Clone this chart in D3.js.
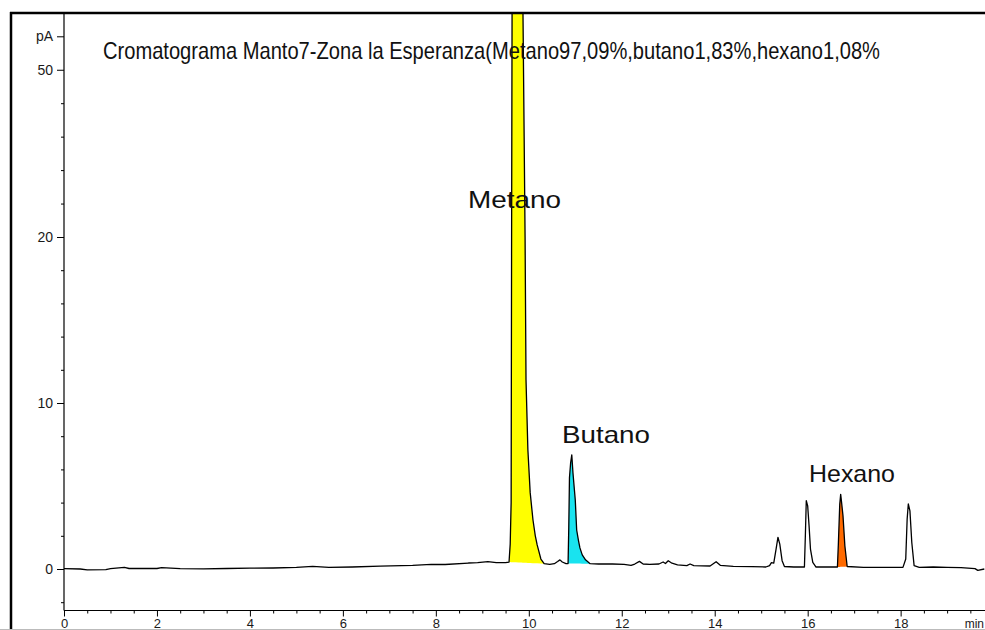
<!DOCTYPE html>
<html>
<head>
<meta charset="utf-8">
<script src="https://cdn.jsdelivr.net/npm/d3@7"></script>
<style>
  html, body { margin: 0; padding: 0; background: #fff; }
  svg { display: block; }
  text { font-family: Arial, "Liberation Sans", sans-serif; }
</style>
</head>
<body>
<script>
// Retention time (min) and detector signal (pA) of the FID trace
const traceTime = [
  0.00, 0.35, 0.50, 0.90, 1.00, 1.30, 1.40, 2.00, 2.10, 2.50, 3.00, 3.50, 4.00, 4.50,
  5.00, 5.35, 5.70, 6.20, 6.80, 7.50, 7.90, 8.20, 8.70, 8.90, 9.12, 9.30, 9.50,
  9.575, 9.60, 9.62, 9.63, 9.64, 9.66, 9.72, 9.78, 9.84, 9.875, 9.90, 9.92, 9.94,
  9.98, 10.03, 10.09, 10.14, 10.18, 10.26, 10.33, 10.45, 10.55, 10.62, 10.67, 10.72, 10.80,
  10.845, 10.86, 10.875, 10.90, 10.925, 10.95, 10.98, 11.00, 11.03, 11.07, 11.10, 11.15, 11.22, 11.32,
  11.50, 11.80, 12.05, 12.20, 12.28, 12.38, 12.46, 12.60, 12.80, 12.89, 12.94, 13.00, 13.08,
  13.20, 13.40, 13.47, 13.55, 13.90, 14.03, 14.12, 14.40, 14.80, 15.10, 15.18, 15.22, 15.27,
  15.32, 15.36, 15.40, 15.45, 15.50, 15.70, 15.93, 15.95, 15.97, 16.00, 16.03, 16.06, 16.11, 16.18,
  16.40, 16.64, 16.66, 16.69, 16.71, 16.73, 16.76, 16.80, 16.85, 17.20, 17.60, 18.05,
  18.11, 18.14, 18.165, 18.20, 18.24, 18.29, 18.40, 18.70, 19.00, 19.30, 19.60, 19.66, 19.80
];
const traceSignal = [
  0.02, 0.00, -0.05, -0.04, 0.02, 0.10, 0.03, 0.03, 0.08, 0.02, 0.01, 0.03, 0.05, 0.06,
  0.10, 0.16, 0.10, 0.12, 0.17, 0.22, 0.28, 0.27, 0.36, 0.38, 0.45, 0.38, 0.38,
  0.42, 1.5, 4.0, 20, 60, 140, 260, 240, 140, 60, 38, 20, 11.4,
  7.2, 4.6, 2.95, 2.0, 1.45, 0.6, 0.32, 0.28, 0.32, 0.45, 0.55, 0.42, 0.32,
  0.33, 2.5, 5.5, 6.4, 6.87, 5.8, 4.8, 4.16, 2.35, 1.7, 1.27, 0.85, 0.55, 0.32,
  0.30, 0.30, 0.28, 0.22, 0.30, 0.46, 0.30, 0.28, 0.30, 0.42, 0.33, 0.50, 0.35,
  0.25, 0.20, 0.30, 0.20, 0.18, 0.44, 0.22, 0.16, 0.14, 0.12, 0.20, 0.38, 0.35,
  1.2, 1.91, 1.5, 0.5, 0.15, 0.12, 0.12, 2.0, 4.11, 3.8, 2.6, 1.2, 0.4, 0.12,
  0.12, 0.12, 1.5, 3.9, 4.5, 4.0, 3.2, 1.4, 0.15, 0.10, 0.10, 0.10,
  0.6, 3.0, 3.92, 3.5, 1.6, 0.2, 0.10, 0.12, 0.10, 0.08, 0.02, -0.08, 0.00
];

// Identified peaks: integration window (min) and fill colour
const peakNames = ["Metano", "Butano", "Hexano"];
const peakStart = [9.575, 10.845, 16.64];
const peakEnd   = [10.33, 11.32, 16.85];
const peakColors = ["#ffff00", "#19e3ef", "#ff6a00"];

const title = "Cromatograma Manto7-Zona la Esperanza(Metano97,09%,butano1,83%,hexano1,08%";

// Axis ticks
const xMajorTicks = [0, 2, 4, 6, 8, 10, 12, 14, 16, 18];
const xMinorTicks = [0.5, 1, 1.5, 2.5, 3, 3.5, 4.5, 5, 5.5, 6.5, 7, 7.5, 8.5, 9, 9.5,
  10.5, 11, 11.5, 12.5, 13, 13.5, 14.5, 15, 15.5, 16.5, 17, 17.5, 18.5, 19, 19.5];
const yMajorTicks = [0, 10, 20, 50, 56];
const yMajorLabels = ["0", "10", "20", "50", "pA"];
const yMinorTicks = [-2, 2, 4, 6, 8, 12, 14, 16, 18, 26, 32, 38, 44];

const W = 985, H = 630;
const svg = d3.select("body").append("svg").attr("width", W).attr("height", H);

// Time axis and a signal axis that is compressed above 20 pA
const x = d3.scaleLinear().domain([0, 19.8]).range([64, 984.3]);
const y = d3.scaleLinear().domain([-2.5, 20, 60]).range([610.5, 237, 14]);

svg.append("defs").append("clipPath").attr("id", "plot")
  .append("rect").attr("x", 64).attr("y", 14).attr("width", W - 64).attr("height", 596);

const pts = traceTime.map((t, i) => ({ t, v: traceSignal[i] }));
const plot = svg.append("g").attr("clip-path", "url(#plot)");

// Coloured peak areas, closed by a straight baseline between the window ends
peakNames.forEach((name, k) => {
  const seg = pts.filter(p => p.t >= peakStart[k] - 1e-9 && p.t <= peakEnd[k] + 1e-9);
  const a = seg[0], b = seg[seg.length - 1];
  const base = t => a.v + (b.v - a.v) * (t - a.t) / (b.t - a.t);
  plot.append("path")
    .datum(seg)
    .attr("fill", peakColors[k])
    .attr("d", d3.area().x(p => x(p.t)).y0(p => y(base(p.t))).y1(p => y(p.v)));
});

// Signal trace
plot.append("path")
  .datum(pts)
  .attr("fill", "none")
  .attr("stroke", "#000")
  .attr("stroke-width", 1.3)
  .attr("stroke-linejoin", "round")
  .attr("d", d3.line().x(p => x(p.t)).y(p => y(p.v)));

// Axes
const axisColor = "#000";
const yAxisMajor = svg.append("g").attr("transform", "translate(64,0)")
  .call(d3.axisLeft(y).tickValues(yMajorTicks).tickSize(7).tickPadding(4)
    .tickFormat((d, i) => yMajorLabels[i]));
yAxisMajor.select(".domain").remove();
const yAxisMinor = svg.append("g").attr("transform", "translate(64,0)")
  .call(d3.axisLeft(y).tickValues(yMinorTicks).tickSize(3).tickFormat(""));
yAxisMinor.select(".domain").remove();
svg.append("line").attr("x1", 64).attr("x2", 64).attr("y1", 13).attr("y2", 610.5)
  .attr("stroke", axisColor).attr("stroke-width", 1.2);

const xAxisMajor = svg.append("g").attr("transform", "translate(0,610.5)")
  .call(d3.axisBottom(x).tickValues(xMajorTicks).tickSize(6).tickPadding(3)
    .tickFormat(d3.format("d")));
xAxisMajor.select(".domain").remove();
const xAxisMinor = svg.append("g").attr("transform", "translate(0,610.5)")
  .call(d3.axisBottom(x).tickValues(xMinorTicks).tickSize(3).tickFormat(""));
xAxisMinor.select(".domain").remove();
svg.append("line").attr("x1", 64).attr("x2", W).attr("y1", 610.5).attr("y2", 610.5)
  .attr("stroke", axisColor).attr("stroke-width", 1.2);

svg.selectAll(".tick text")
  .attr("font-size", 14)
  .attr("font-family", "Arial, 'Liberation Sans', sans-serif")
  .attr("fill", "#1a1a1a");
xAxisMajor.selectAll(".tick text").attr("font-size", 13).attr("dy", null).attr("y", 17);

svg.append("text").attr("x", 984).attr("y", 627.5).attr("font-size", 12)
  .attr("text-anchor", "end")
  .attr("fill", "#1a1a1a").text("min");

// Title
svg.append("text")
  .attr("x", 103).attr("y", 59)
  .attr("font-size", 24)
  .attr("textLength", 777).attr("lengthAdjust", "spacingAndGlyphs")
  .attr("fill", "#111")
  .text(title);

// Peak labels
const labelPos = [[468, 208, 93], [562, 443, 88], [809, 482, 86]];
peakNames.forEach((name, k) => {
  svg.append("text")
    .attr("x", labelPos[k][0]).attr("y", labelPos[k][1])
    .attr("font-size", 24)
    .attr("textLength", labelPos[k][2]).attr("lengthAdjust", "spacingAndGlyphs")
    .attr("fill", "#111")
    .text(name);
});

// Outer frame
svg.append("line").attr("x1", 10).attr("x2", W).attr("y1", 13).attr("y2", 13)
  .attr("stroke", "#000").attr("stroke-width", 2.5);
svg.append("line").attr("x1", 11).attr("x2", 11).attr("y1", 12).attr("y2", H)
  .attr("stroke", "#000").attr("stroke-width", 2.5);
svg.append("line").attr("x1", 0).attr("x2", W).attr("y1", 629.5).attr("y2", 629.5)
  .attr("stroke", "#bbb").attr("stroke-width", 1);
</script>
</body>
</html>
